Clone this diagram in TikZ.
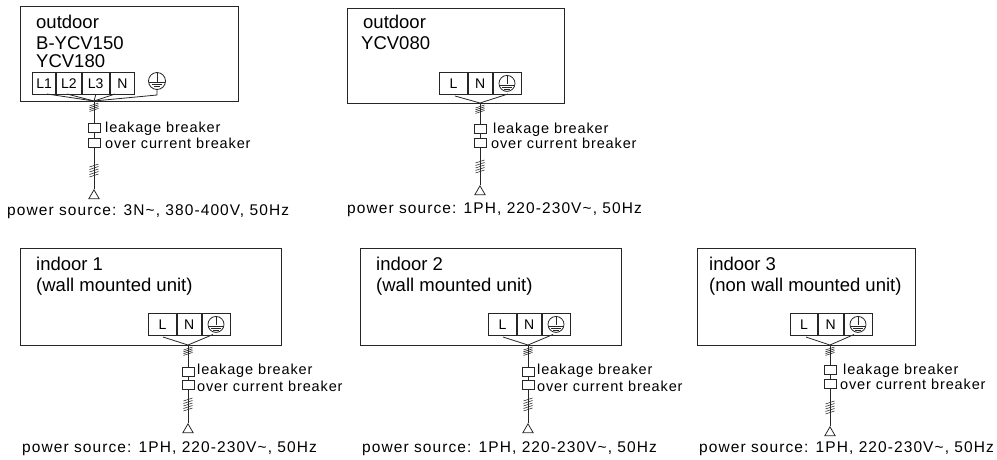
\documentclass[tikz,border=0pt]{standalone}
\usepackage{fontspec}
\setmainfont{Liberation Sans}
\newfontfamily\tagfont[LetterSpace=6]{Liberation Sans}
\newfontfamily\srcfont[LetterSpace=7]{Liberation Sans}
\usetikzlibrary{positioning}
\usetikzlibrary{shapes.geometric}
\tikzset{
  wire/.style={line width=0.8pt, black!85},
  tick/.style={line width=0.6pt, black!85},
  unitbox/.style={draw, wire, anchor=north west, inner sep=0pt},
  head/.style={inner sep=0pt, anchor=base west, font=\fontsize{18.5}{20}\selectfont},
  tag/.style={inner sep=0pt, anchor=base west, font=\tagfont\fontsize{14.5}{16}\selectfont},
  srctag/.style={inner sep=0pt, anchor=base west, font=\srcfont\fontsize{15.5}{17}\selectfont},
  term/.style={draw, wire, minimum height=22pt, inner sep=0pt, text=black, font=\fontsize{14}{15}\selectfont},
  brk/.style={draw, wire, minimum width=12pt, minimum height=9pt, inner sep=0pt},
  source/.style={draw, wire, isosceles triangle, shape border rotate=90, isosceles triangle apex angle=60, minimum height=9pt, inner sep=0pt, anchor=apex},
  earth/.style={draw, wire, circle, minimum size=16pt, inner sep=0pt, path picture={
    \draw[wire] (path picture bounding box.north) -- ++(0,-9pt);
    \draw[wire] ([yshift=-1.5pt]path picture bounding box.west) -- ([yshift=-1.5pt]path picture bounding box.east);
    \draw[wire] ([xshift=-5pt,yshift=-3.5pt]path picture bounding box.center) -- ++(10pt,0);
    \draw[wire] ([xshift=-3pt,yshift=-5.5pt]path picture bounding box.center) -- ++(6pt,0);
  }}
}
\begin{document}
\begin{tikzpicture}[x=1pt, y=1pt]
    \useasboundingbox (0,0) rectangle (997,-459);
    % unit boxes
    \node[unitbox, minimum width=218pt, minimum height=95pt] (out1) at (20,-6) {};
    \node[unitbox, minimum width=217pt, minimum height=95pt] (out2) at (347,-8) {};
    \node[unitbox, minimum width=261pt, minimum height=97pt] (in1) at (20,-248) {};
    \node[unitbox, minimum width=261pt, minimum height=97pt] (in2) at (360,-248) {};
    \node[unitbox, minimum width=218pt, minimum height=97pt] (in3) at (697,-248) {};
    \node[head] (out1a) at (36,-28) {outdoor};
    \node[head] (out1b) at (36,-49) {B-YCV150};
    \node[head] (out1c) at (36,-67.5) {YCV180};
    \node[head] (out2a) at (363,-28) {outdoor};
    \node[head] (out2b) at (361,-49) {YCV080};
    \node[head] (in1a) at (36,-270) {indoor 1};
    \node[head] (in1b) at (36,-291) {(wall mounted unit)};
    \node[head] (in2a) at (376,-270) {indoor 2};
    \node[head] (in2b) at (376,-291) {(wall mounted unit)};
    \node[head] (in3a) at (709,-270) {indoor 3};
    \node[head] (in3b) at (709,-291) {(non wall mounted unit)};
    % terminals
    \node[term, anchor=north west, minimum width=22.7pt] (out1L1) at (32.4,-72) {L1};
    \node[term, minimum width=25pt, right=0pt of out1L1] (out1L2) {L2};
    \node[term, minimum width=27.3pt, right=0pt of out1L2] (out1L3) {L3};
    \node[term, minimum width=24.4pt, right=0pt of out1L3] (out1N) {N};
    \node[earth, minimum size=17pt] (out1E) at (157,-81) {};
    \foreach \n/\x/\y/\a/\b/\c in {out2/439/-72/28/24/28, in1/148/-313/28/24/28, in2/488/-313/28/24/28, in3/790/-313/27/25/28} {
      \node[term, anchor=north west, minimum width=\a pt] (\n L) at (\x,\y) {L\hspace{8pt}};
      \node[term, minimum width=\b pt, right=0pt of \n L] (\n N) {N\hspace{6pt}};
      \node[term, minimum width=\c pt, right=0pt of \n N] (\n T) {};
      \node[earth] (\n E) at (\n T) {};
    }
    % feeders
    \foreach \n/\w/\j/\ba/\bb/\s/\la/\lb/\ya/\yb in {
      out1/94/-101/-128/-143/-189/105/105/-132/-148,
      out2/480/-103/-128.5/-142.5/-185/493/491/-133/-148,
      in1/188/-345/-372/-384.5/-423/197/197/-374/-391,
      in2/528/-345/-372/-384.5/-423/537/537/-374/-391,
      in3/830/-345/-369.5/-383.5/-426/843/840/-374/-389} {
      \coordinate (\n J) at (\w,\j);
      \node[brk] (\n B) at (\w,\ba) {};
      \node[brk] (\n C) at (\w,\bb) {};
      \node[source] (\n S) at (\w,\s) {};
      \draw[wire] (\n J) -- (\n B);
      \draw[wire] (\n B) -- (\n C);
      \draw[wire] (\n C) -- (\n S.apex);
      \node[tag] (\n K) at (\la,\ya) {leakage breaker};
      \node[tag] (\n O) at (\lb,\yb) {over current breaker};
      \foreach \d in {0,1.8,3.6,5.4} {
        \draw[tick] ([xshift=-4.5pt,yshift=-5pt-\d*1pt]\n J) -- ++(9,3);
      }
      \foreach \d in {0,2.5,5,7.5,10} {
        \draw[tick] ([xshift=-4.5pt,yshift=12pt+\d*1pt]\n S.apex) -- ++(9,3);
      }
    }
    \node[srctag] (out1P) at (7,-215) {power source: 3N\textasciitilde, 380-400V, 50Hz};
    \node[srctag] (out2P) at (347,-213) {power source: 1PH, 220-230V\textasciitilde, 50Hz};
    \node[srctag] (in1P) at (22,-452) {power source: 1PH, 220-230V\textasciitilde, 50Hz};
    \node[srctag] (in2P) at (362,-452) {power source: 1PH, 220-230V\textasciitilde, 50Hz};
    \node[srctag] (in3P) at (699,-452) {power source: 1PH, 220-230V\textasciitilde, 50Hz};
    % terminal fan-in
    \coordinate (out1Lf1) at (47,-94);
    \coordinate (out1Lf2) at (67,-94);
    \coordinate (out1Nf) at (115,-94);
    \coordinate (out1Ef) at (157,-95);
    \draw[wire] (out1Lf1) -- (out1J);
    \draw[wire] (out1Lf2) -- (out1J);
    \draw[wire] (out1L3.south) -- (out1J);
    \draw[wire] (out1Nf) -- (out1J);
    \draw[wire] (out1E.south) -- (out1Ef) -- (out1J);
    \foreach \n/\u/\v/\p/\q in {out2/455/508/-96/-94, in1/163/213/-337/-334.5, in2/503/553/-337/-334.5, in3/806/854/-337/-334.5} {
      \coordinate (\n Lf) at (\u,\p);
      \coordinate (\n Ef) at (\v,\q);
      \draw[wire] (\n Lf) -- (\n J) -- (\n Ef);
    }
\end{tikzpicture}
\end{document}
